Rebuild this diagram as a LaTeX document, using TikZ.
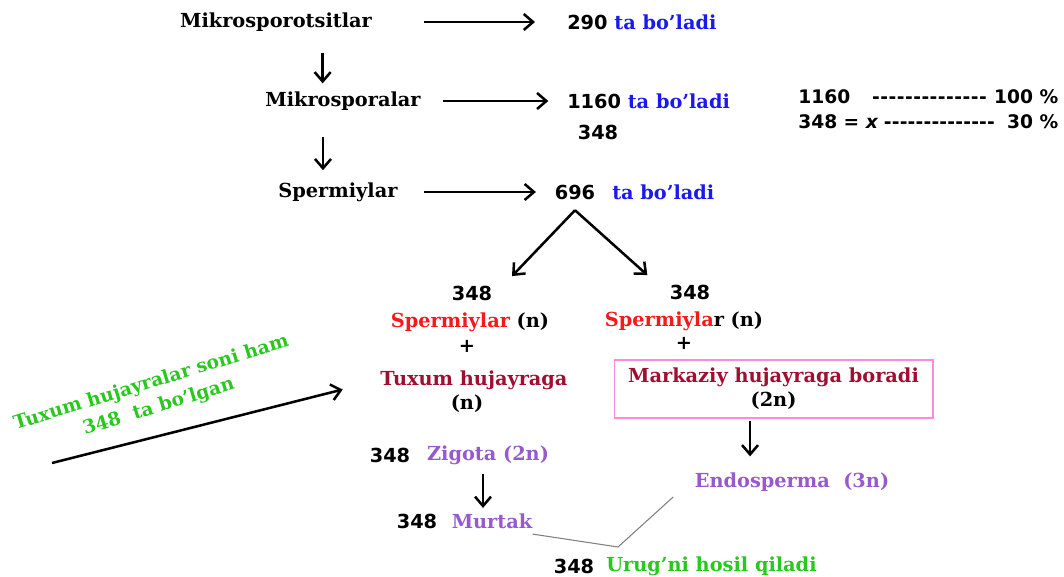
\documentclass[tikz,border=0pt]{standalone}
\usepackage{fontspec}
\setmainfont{DejaVu Serif}
\newfontfamily\numfont{DejaVu Sans}
\usetikzlibrary{arrows.meta,calc}
\definecolor{tblue}{RGB}{25,25,240}
\definecolor{tred}{RGB}{245,25,25}
\definecolor{tdark}{RGB}{160,15,50}
\definecolor{tpurple}{RGB}{150,90,205}
\definecolor{tgreen}{RGB}{40,200,30}
\definecolor{tpink}{RGB}{250,140,220}
\newcommand\nm[1]{{\numfont\bfseries\fontsize{14.5}{17}\selectfont #1}}
\begin{document}
\begin{tikzpicture}[x=0.75pt,y=-0.75pt,
  every node/.style={inner sep=0pt, font=\bfseries\fontsize{14.5}{18}\selectfont},
  arr/.style={-{Straight Barb[length=7pt,width=12pt]}, line width=1.9pt},
  lbl/.style={anchor=west}]
\useasboundingbox (0,0) rectangle (1064,577);

% chain of cells on the left
\node (mik) at (276,22) {Mikrosporotsitlar};
\node[lbl] (n290) at (567,22) {\nm{290} \textcolor{tblue}{ta bo’ladi}};
\node (mikspo) at (343,101) {Mikrosporalar};
\node[lbl] (n1160) at (567,101) {\nm{1160} \textcolor{tblue}{ta bo’ladi}};
\node (n348a) at (598,132) {\nm{348}};
\node (spe) at (338,192) {Spermiylar};
\node (n696) at (575,192) {\nm{696}};
\node[lbl] (tb3) at (612,192) {\textcolor{tblue}{ta bo’ladi}};

% percentage calculation
\node[lbl] (pc1) at (798,97) {\numfont\bfseries\fontsize{14}{17}\selectfont
  \hbox to 195pt{1160\hspace{16pt}\xleaders\hbox{-}\hfill\hspace{5pt}100 \%}};
\node[lbl] (pc2) at (798,122) {\numfont\bfseries\fontsize{14}{17}\selectfont
  \hbox to 195pt{348 = \textit{x}\hspace{4pt}\xleaders\hbox{-}\hfill\hspace{9pt}30 \%}};

% horizontal arrows
\draw[arr, shorten <=39pt, shorten >=24pt] (mik.east) -- (n290.west);
\draw[arr, shorten <=16.5pt, shorten >=14pt] (mikspo.east) -- (n1160.west);
\draw[arr, shorten <=19.5pt, shorten >=14pt] (spe.east) -- (n696.west);

% vertical arrows between cell stages
\coordinate (dn1) at ([xshift=35pt,yshift=-16pt]mik.south);
\draw[arr, shorten >=6pt] (dn1) -- (dn1 |- mikspo.north);
\coordinate (dn2) at ([xshift=-15pt,yshift=-20pt]mikspo.south);
\draw[arr, shorten >=9pt] (dn2) -- (dn2 |- spe.north);

% two sperm cells
\node (l348) at (472,293) {\nm{348}};
\node (lsp) at (470,322) {\textcolor{tred}{Spermiylar} (n)};
\node (lplus) at (467,346) {+};
\node (ltux) at (474,380) {\textcolor{tdark}{Tuxum hujayraga}};
\node (ln) at (467,404) {(n)};

\node (r348) at (690,292) {\nm{348}};
\node (rsp) at (684,321) {\textcolor{tred}{Spermiyla}r (n)};
\node (rplus) at (684,343) {+};
\node[draw=tpink, line width=1pt, minimum width=239pt, minimum height=43.5pt, align=center]
  (rbox) at (773.5,389) {\textcolor{tdark}{Markaziy\ hujayraga\ boradi}\\(2n)};

\draw[arr] ([yshift=-8pt]n696.south) -- ([xshift=30pt,yshift=7pt]l348.north);
\draw[arr] ([yshift=-8pt]n696.south) -- ([xshift=-32pt,yshift=7pt]r348.north);

% egg cell note
\node[rotate=17, align=center, text=tgreen, font=\bfseries\fontsize{14}{19}\selectfont]
  (note) at (155,395) {Tuxum hujayralar soni ham\\348\ \ ta bo’lgan};
\coordinate (tail) at (52,463);
\draw[arr, shorten >=29pt] (tail) -- (ltux.west);

% results of fertilisation
\node (z348) at (390,455) {\nm{348}};
\node (zig) at (488,455) {\textcolor{tpurple}{Zigota (2n)}};
\node (m348) at (417,521) {\nm{348}};
\node (murt) at (492,521) {\textcolor{tpurple}{Murtak}};
\node (endo) at (792,482) {\textcolor{tpurple}{Endosperma\ \ (3n)}};
\node (u348) at (574,566) {\nm{348}};
\node[lbl] (urug) at (606,566) {\textcolor{tgreen}{Urug’ni hosil qiladi}};

\coordinate (dnZ) at ([xshift=-3.75pt,yshift=-7pt]zig.south);
\draw[arr, shorten >=4pt] (dnZ) -- (dnZ |- murt.north);
\coordinate (dnR) at ([xshift=-17.6pt,yshift=-1.5pt]rbox.south);
\draw[arr, shorten >=12pt] (dnR) -- (dnR |- endo.north);

% seed joins embryo and endosperm
\coordinate (vtx) at (618,547);
\draw[gray, line width=0.8pt] ([yshift=-4pt]murt.south east) -- (vtx)
  -- ([xshift=-16pt,yshift=-4pt]endo.south west);
\end{tikzpicture}
\end{document}
